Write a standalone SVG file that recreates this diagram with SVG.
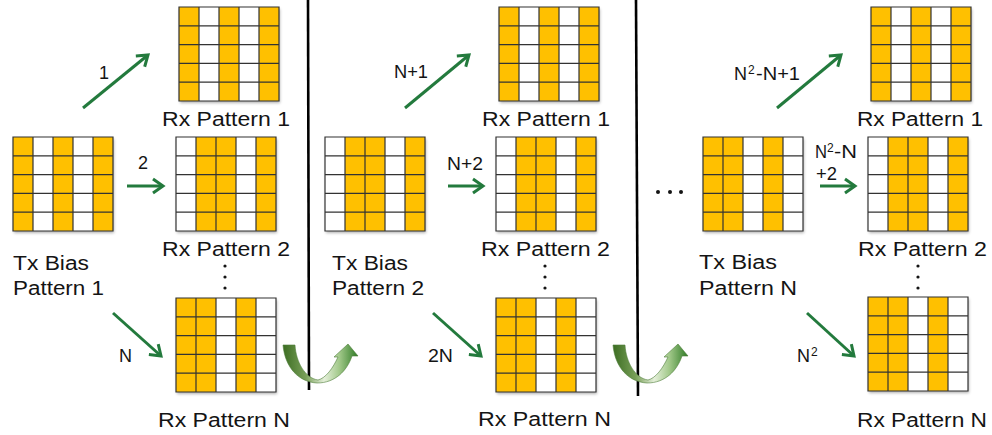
<svg xmlns="http://www.w3.org/2000/svg" xmlns:xlink="http://www.w3.org/1999/xlink" width="992" height="435" viewBox="0 0 992 435">
<style>
  .lbl{font-family:"Liberation Sans",Arial,sans-serif;font-size:20px;fill:#141414}
  .sm{font-family:"Liberation Sans",Arial,sans-serif;font-size:18px;fill:#141414}
  .sup{font-family:"Liberation Sans",Arial,sans-serif;font-size:12px;fill:#141414}
  .gl{stroke:#333;stroke-width:1.2;fill:none}
  .y{fill:#FFC000}
  .arr{stroke:#237a3d;stroke-width:3;fill:none;marker-end:url(#ah)}
  .div{stroke:#000;stroke-width:2.6}
  .dot{fill:#141414}
  .uturn{fill:url(#ug);stroke:#4f7d3a;stroke-width:0.6}
</style>
<defs>
  <filter id="sh" x="-10%" y="-10%" width="125%" height="125%">
    <feDropShadow dx="1" dy="2" stdDeviation="1.5" flood-color="#000" flood-opacity="0.3"/>
  </filter>
  <marker id="ah" markerUnits="userSpaceOnUse" markerWidth="20" markerHeight="20" refX="0" refY="0" viewBox="-12 -10 16 20" orient="auto" overflow="visible">
    <polyline points="-10,-7 0,0 -10,7" fill="none" stroke="#237a3d" stroke-width="3" stroke-linejoin="miter"/>
  </marker>
  <linearGradient id="ug" x1="0" y1="0" x2="1" y2="0">
    <stop offset="0" stop-color="#3c6d22"/>
    <stop offset="0.3" stop-color="#789f58"/>
    <stop offset="0.55" stop-color="#e4efd9"/>
    <stop offset="0.75" stop-color="#a2c98a"/>
    <stop offset="1" stop-color="#2f7a25"/>
  </linearGradient>
  <g id="lines">
    <path class="gl" d="M0,0H100V94H0Z M20,0V94 M40,0V94 M60,0V94 M80,0V94 M0,18.8H100 M0,37.6H100 M0,56.4H100 M0,75.2H100"/>
  </g>
  <g id="gA">
    <rect width="100" height="94" fill="#fff" filter="url(#sh)"/>
    <rect class="y" x="0" width="20" height="94"/><rect class="y" x="40" width="20" height="94"/><rect class="y" x="80" width="20" height="94"/>
    <use xlink:href="#lines"/>
  </g>
  <g id="gB">
    <rect width="100" height="94" fill="#fff" filter="url(#sh)"/>
    <rect class="y" x="20" width="40" height="94"/><rect class="y" x="80" width="20" height="94"/>
    <use xlink:href="#lines"/>
  </g>
  <g id="gC">
    <rect width="100" height="94" fill="#fff" filter="url(#sh)"/>
    <rect class="y" x="0" width="40" height="94"/><rect class="y" x="60" width="20" height="94"/>
    <use xlink:href="#lines"/>
  </g>
  <path id="uturnShape" class="uturn" d="M283,345 L295,345 C296,362 305,378 318,380 C326,378 333,368 338,357 L334,357 L348,344 L358,356 L352,356 C347,371 335,383 317,383 C299,382 285,368 283,345 Z"/>
</defs>

<!-- dividers -->
<g id="dividers">
  <line class="div" x1="308" y1="0" x2="309" y2="390"/>
  <line class="div" x1="636" y1="0" x2="638" y2="396"/>
</g>

<!-- Panel 1 -->
<g id="p1-tx">
  <use xlink:href="#gA" x="13" y="137"/>
  <text class="lbl" x="13" y="270" textLength="76" lengthAdjust="spacingAndGlyphs">Tx Bias</text>
  <text class="lbl" x="13" y="295" textLength="91" lengthAdjust="spacingAndGlyphs">Pattern 1</text>
</g>
<g id="p1-rx1">
  <use xlink:href="#gA" x="179" y="7"/>
  <text class="lbl" x="162" y="126" textLength="128" lengthAdjust="spacingAndGlyphs">Rx Pattern 1</text>
</g>
<g id="p1-rx2">
  <use xlink:href="#gB" x="176" y="137"/>
  <text class="lbl" x="162" y="256" textLength="128" lengthAdjust="spacingAndGlyphs">Rx Pattern 2</text>
</g>
<g id="p1-dots">
  <circle class="dot" cx="225" cy="266" r="1.6"/><circle class="dot" cx="225" cy="277" r="1.6"/><circle class="dot" cx="225" cy="288" r="1.6"/>
</g>
<g id="p1-rxn">
  <use xlink:href="#gC" x="176" y="298"/>
  <text class="lbl" x="158" y="427" textLength="132" lengthAdjust="spacingAndGlyphs">Rx Pattern N</text>
</g>

<!-- Panel 2 -->
<g id="p2-tx">
  <use xlink:href="#gB" x="325" y="137"/>
  <text class="lbl" x="332" y="270" textLength="76" lengthAdjust="spacingAndGlyphs">Tx Bias</text>
  <text class="lbl" x="332" y="295" textLength="92" lengthAdjust="spacingAndGlyphs">Pattern 2</text>
</g>
<g id="p2-rx1">
  <use xlink:href="#gA" x="499" y="7"/>
  <text class="lbl" x="482" y="126" textLength="128" lengthAdjust="spacingAndGlyphs">Rx Pattern 1</text>
</g>
<g id="p2-rx2">
  <use xlink:href="#gB" x="496" y="137"/>
  <text class="lbl" x="481" y="256" textLength="129" lengthAdjust="spacingAndGlyphs">Rx Pattern 2</text>
</g>
<g id="p2-dots">
  <circle class="dot" cx="545" cy="266" r="1.6"/><circle class="dot" cx="545" cy="277" r="1.6"/><circle class="dot" cx="545" cy="288" r="1.6"/>
</g>
<g id="p2-rxn">
  <use xlink:href="#gC" x="496" y="298"/>
  <text class="lbl" x="478" y="426" textLength="133" lengthAdjust="spacingAndGlyphs">Rx Pattern N</text>
</g>

<!-- Panel 3 -->
<g id="p3-ellipsis">
  <circle class="dot" cx="658" cy="192" r="2"/><circle class="dot" cx="670" cy="192" r="2"/><circle class="dot" cx="681" cy="192" r="2"/>
</g>
<g id="p3-tx">
  <use xlink:href="#gC" x="703" y="137"/>
  <text class="lbl" x="699" y="269" textLength="78" lengthAdjust="spacingAndGlyphs">Tx Bias</text>
  <text class="lbl" x="699" y="295" textLength="98" lengthAdjust="spacingAndGlyphs">Pattern N</text>
</g>
<g id="p3-rx1">
  <use xlink:href="#gA" x="871" y="7"/>
  <text class="lbl" x="857" y="126" textLength="126" lengthAdjust="spacingAndGlyphs">Rx Pattern 1</text>
</g>
<g id="p3-rx2">
  <use xlink:href="#gB" x="868" y="137"/>
  <text class="lbl" x="858" y="256" textLength="129" lengthAdjust="spacingAndGlyphs">Rx Pattern 2</text>
</g>
<g id="p3-dots">
  <circle class="dot" cx="918" cy="266" r="1.6"/><circle class="dot" cx="918" cy="277" r="1.6"/><circle class="dot" cx="918" cy="288" r="1.6"/>
</g>
<g id="p3-rxn">
  <use xlink:href="#gC" x="868" y="297"/>
  <text class="lbl" x="857" y="427" textLength="130" lengthAdjust="spacingAndGlyphs">Rx Pattern N</text>
</g>

<!-- connectors -->
<g id="connectors">
  <line class="arr" x1="83" y1="108" x2="148" y2="55"/>
  <text class="sm" x="99" y="79">1</text>
  <line class="arr" x1="127" y1="186" x2="163" y2="186"/>
  <text class="sm" x="138" y="169">2</text>
  <line class="arr" x1="113" y1="313" x2="161" y2="356"/>
  <text class="sm" x="119" y="362">N</text>

  <line class="arr" x1="405" y1="108" x2="469" y2="55"/>
  <text class="sm" x="394" y="78" textLength="34" lengthAdjust="spacingAndGlyphs">N+1</text>
  <line class="arr" x1="448" y1="186" x2="483" y2="186"/>
  <text class="sm" x="447" y="170" textLength="36" lengthAdjust="spacingAndGlyphs">N+2</text>
  <line class="arr" x1="433" y1="313" x2="481" y2="356"/>
  <text class="sm" x="428" y="362" textLength="25" lengthAdjust="spacingAndGlyphs">2N</text>

  <line class="arr" x1="777" y1="108" x2="841" y2="55"/>
  <text class="sm" x="734" y="80" textLength="13" lengthAdjust="spacingAndGlyphs">N</text>
  <text class="sup" x="748" y="74">2</text>
  <text class="sm" x="756" y="80" textLength="44" lengthAdjust="spacingAndGlyphs">-N+1</text>

  <line class="arr" x1="820" y1="186" x2="855" y2="186"/>
  <text class="sm" x="815" y="158" textLength="12" lengthAdjust="spacingAndGlyphs">N</text>
  <text class="sup" x="827" y="152">2</text>
  <text class="sm" x="834" y="158" textLength="23" lengthAdjust="spacingAndGlyphs">-N</text>
  <text class="sm" x="816" y="180" textLength="21" lengthAdjust="spacingAndGlyphs">+2</text>

  <line class="arr" x1="807" y1="313" x2="854" y2="356"/>
  <text class="sm" x="797" y="362" textLength="13" lengthAdjust="spacingAndGlyphs">N</text>
  <text class="sup" x="811" y="356">2</text>

  <use xlink:href="#uturnShape"/>
  <use xlink:href="#uturnShape" transform="translate(330,0)"/>
</g>
</svg>
